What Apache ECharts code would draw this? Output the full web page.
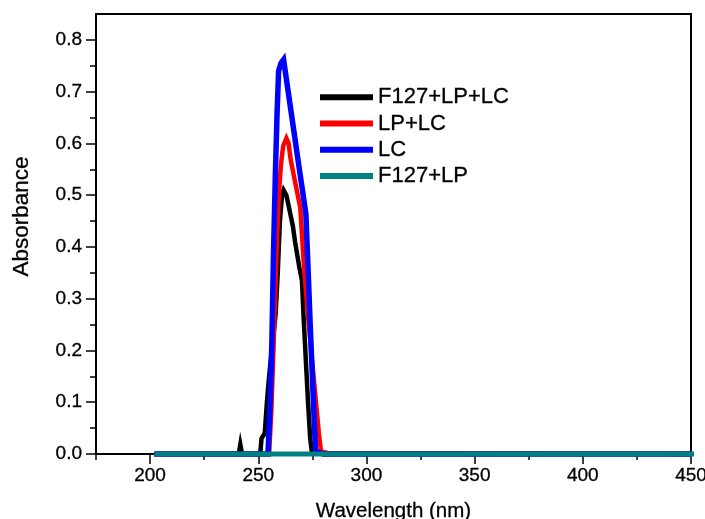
<!DOCTYPE html>
<html>
<head>
<meta charset="utf-8">
<script src="https://cdn.jsdelivr.net/npm/echarts@6/dist/echarts.min.js"></script>
<style>
html,body{margin:0;padding:0;background:#fff;}
#chart{width:705px;height:519px;}
</style>
</head>
<body>
<div id="chart"></div>
<script>
// ---- data ----
var seriesNames = ['F127+LP+LC', 'LP+LC', 'LC', 'F127+LP'];
var seriesColors = ['#000000', '#ff0000', '#0000ff', '#008080'];

var blackX = [202, 240, 241, 241.7, 242.5, 250, 251, 251.5, 253, 254, 255, 256, 257, 258, 259, 260, 261, 261.7, 263, 264, 265, 266, 267, 268, 269, 270.2, 271, 272, 273, 274, 274.8, 280, 450];
var blackY = [0, 0, 0, 0.018, 0, 0, 0.005, 0.03, 0.04, 0.1, 0.15, 0.19, 0.23, 0.27, 0.35, 0.45, 0.5, 0.51, 0.5, 0.48, 0.46, 0.44, 0.41, 0.385, 0.36, 0.335, 0.26, 0.18, 0.1, 0.03, 0.003, 0, 0];

var redX = [202, 255, 256, 257, 258, 258.6, 259.5, 260.5, 261.5, 263, 264, 265, 267, 269.4, 271, 272.7, 274, 276, 278, 279, 282, 450];
var redY = [0, 0, 0.08, 0.2, 0.33, 0.41, 0.5, 0.56, 0.595, 0.61, 0.6, 0.568, 0.526, 0.476, 0.37, 0.28, 0.22, 0.13, 0.04, 0.005, 0.002, 0];

var blueX = [202, 254.5, 255.5, 256.3, 257, 257.9, 258.7, 259.4, 260.5, 261.7, 263, 265, 267, 269, 271, 272, 273, 274, 275, 276, 276.5, 280, 450];
var blueY = [0, 0, 0.1, 0.22, 0.38, 0.54, 0.66, 0.74, 0.755, 0.762, 0.724, 0.666, 0.608, 0.55, 0.493, 0.464, 0.36, 0.25, 0.15, 0.05, 0.005, 0, 0];

var tealX = [202, 250, 300, 350, 400, 453];
var tealY = [0, 0, 0, 0, 0, 0];

var xMajorTicks = [200, 250, 300, 350, 400, 450];
var xMinorTicks = [175, 225, 275, 325, 375, 425];
var yMajorTicks = [0, 0.1, 0.2, 0.3, 0.4, 0.5, 0.6, 0.7, 0.8];
var yMinorTicks = [0.05, 0.15, 0.25, 0.35, 0.45, 0.55, 0.65, 0.75];
var xTitle = 'Wavelength (nm)';
var yTitle = 'Absorbance';

function pairs(xs, ys) { return xs.map(function (x, i) { return [x, ys[i]]; }); }
var seriesData = [pairs(blackX, blackY), pairs(redX, redY), pairs(blueX, blueY), pairs(tealX, tealY)];
var lineWidths = [4.5, 4.5, 5.5, 5];

var FONT = "'Liberation Sans', Arial, Helvetica, sans-serif";
var thick = { textBorderColor: '#000', textBorderWidth: 0.3 };

var chart = echarts.init(document.getElementById('chart'), null, { renderer: 'canvas' });
var option = {
  animation: false,
  backgroundColor: '#fff',
  grid: { left: 96, right: 14, top: 14, bottom: 65, outerBoundsMode: 'none', containLabel: false,
    show: true, borderColor: '#000', borderWidth: 2, backgroundColor: 'transparent' },
  legend: {
    orient: 'vertical', left: 320, top: 86, padding: 0, itemGap: 4,
    itemWidth: 53, itemHeight: 6, icon: 'rect',
    textStyle: Object.assign({ fontFamily: FONT, fontSize: 22, color: '#000', lineHeight: 21 }, thick),
    data: seriesNames.map(function (n, i) { return { name: n, itemStyle: { color: seriesColors[i] } }; })
  },
  xAxis: [{
    type: 'value', min: 175, max: 450, position: 'bottom',
    name: xTitle, nameLocation: 'middle', nameGap: 47,
    nameTextStyle: Object.assign({ fontFamily: FONT, fontSize: 20.5, color: '#000' }, thick),
    axisLine: { show: true, onZero: false, lineStyle: { color: '#000', width: 2 } },
    axisTick: { show: true, customValues: xMajorTicks, length: 10, lineStyle: { color: '#000', width: 1.5 } },
    axisLabel: Object.assign({ show: true, customValues: xMajorTicks, margin: 12, fontFamily: FONT, fontSize: 19, color: '#000' }, thick),
    splitLine: { show: false }
  }, {
    type: 'value', min: 175, max: 450, position: 'bottom', offset: 0,
    axisLine: { show: false, onZero: false },
    axisTick: { show: true, customValues: xMinorTicks, length: 6, lineStyle: { color: '#000', width: 1.5 } },
    axisLabel: { show: false },
    splitLine: { show: false }
  }],
  yAxis: [{
    type: 'value', min: 0, max: 0.85, position: 'left',
    axisLine: { show: true, onZero: false, lineStyle: { color: '#000', width: 2 } },
    axisTick: { show: true, customValues: yMajorTicks, length: 10, lineStyle: { color: '#000', width: 1.5 } },
    axisLabel: Object.assign({ show: true, customValues: yMajorTicks, margin: 14, fontFamily: FONT, fontSize: 19, color: '#000',
      formatter: function (v) { return v.toFixed(1); } }, thick),
    splitLine: { show: false }
  }, {
    type: 'value', min: 0, max: 0.85, position: 'left', offset: 0,
    axisLine: { show: false, onZero: false },
    axisTick: { show: true, customValues: yMinorTicks, length: 6, lineStyle: { color: '#000', width: 1.5 } },
    axisLabel: { show: false },
    splitLine: { show: false }
  }],
  graphic: [{
    type: 'text', x: 21.5, y: 216.5, rotation: Math.PI / 2,
    style: { text: yTitle, fontFamily: FONT, fontSize: 22.5, fill: '#000', textAlign: 'center', textVerticalAlign: 'middle', stroke: '#000', lineWidth: 0.3 }
  }],
  series: seriesNames.map(function (n, i) {
    return {
      name: n, type: 'line', xAxisIndex: 0, yAxisIndex: 0,
      data: seriesData[i], showSymbol: false, symbol: 'none', clip: false,
      lineStyle: { color: seriesColors[i], width: lineWidths[i], cap: 'butt', join: 'miter' },
      itemStyle: { color: seriesColors[i] },
      emphasis: { disabled: true }
    };
  })
};
chart.setOption(option);
</script>
</body>
</html>
